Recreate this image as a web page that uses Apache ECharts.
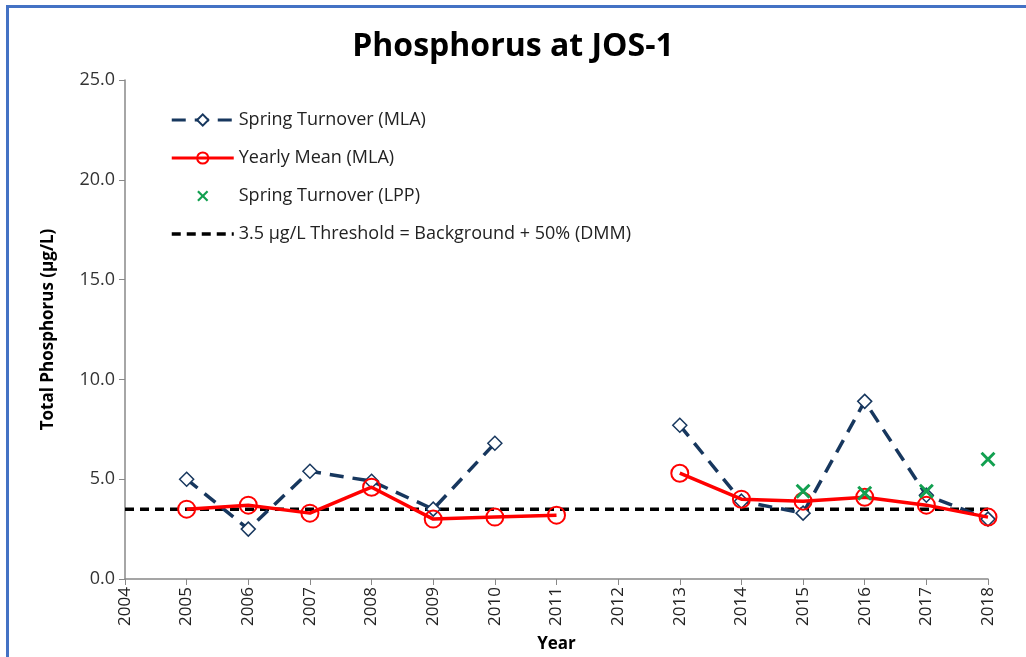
<!DOCTYPE html>
<html>
<head>
  <meta charset="UTF-8">
  <title>Phosphorus at JOS-1</title>
  <script src="https://cdn.jsdelivr.net/npm/echarts@6/dist/echarts.min.js"></script>
  <style>
    html, body { margin: 0; padding: 0; background: #fff; }
    #frame { position: absolute; left: 6px; top: 5px; width: 1030px; height: 660px;
             border-left: 3px solid #4472C4; border-top: 3px solid #4472C4; }
  </style>
</head>
<body>
  <div id="frame"></div>
  <div id="chart" style="position:absolute; left:0; top:0; width:1026px; height:657px;"></div>
  <script>
    var years = ['2004', '2005', '2006', '2007', '2008', '2009', '2010', '2011',
                 '2012', '2013', '2014', '2015', '2016', '2017', '2018'];
    var springMLA = [null, 5.0, 2.5, 5.4, 4.9, 3.5, 6.8, null, null, 7.7, 3.9, 3.3, 8.9, 4.2, 3.0];
    var meanMLA   = [null, 3.5, 3.7, 3.3, 4.6, 3.0, 3.1, 3.2, null, 5.3, 4.0, 3.9, 4.1, 3.7, 3.1];
    var springLPP = [null, null, null, null, null, null, null, null, null, null, null, 4.4, 4.3, 4.4, 6.0];
    var threshold = 3.5;
    var thresholdName = '3.5 \u00b5g/L Threshold = Background + 50% (DMM)';

    var xMark = 'path://M0,1.4L1.4,0L5,3.6L8.6,0L10,1.4L6.4,5L10,8.6L8.6,10L5,6.4L1.4,10L0,8.6L3.6,5Z';
    var font = 'Open Sans';

    var chart = echarts.init(document.getElementById('chart'), null, {renderer: 'canvas'});
    chart.setOption({
      animation: false,
      title: {
        text: 'Phosphorus at JOS-1', left: 'center', top: 26,
        textStyle: {fontFamily: font, fontSize: 32, fontWeight: 'bold', color: '#000'}
      },
      legend: {
        orient: 'vertical', left: 165, top: 106, itemGap: 20, itemWidth: 62, itemHeight: 14,
        textStyle: {fontFamily: font, fontSize: 18, color: '#222'},
        data: [
          {name: 'Spring Turnover (MLA)', lineStyle: {width: 3}},
          {name: 'Yearly Mean (MLA)', lineStyle: {width: 3}},
          'Spring Turnover (LPP)',
          {name: thresholdName, itemStyle: {opacity: 0}, lineStyle: {width: 3.5}}
        ]
      },
      grid: {left: 125, right: 38, top: 80, bottom: 78, outerBoundsMode: 'none'},
      xAxis: {
        type: 'category', data: years, boundaryGap: false,
        name: 'Year', nameLocation: 'middle', nameGap: 57,
        nameTextStyle: {fontFamily: font, fontSize: 17, fontWeight: 'bold', color: '#000'},
        axisLine: {lineStyle: {color: '#888', width: 1.5}},
        axisTick: {alignWithLabel: true, length: 6, lineStyle: {color: '#888'}},
        axisLabel: {rotate: 90, fontFamily: font, fontSize: 17, color: '#222', margin: 8},
        splitLine: {show: false}
      },
      yAxis: {
        type: 'value', min: 0, max: 25, interval: 5,
        name: 'Total Phosphorus (\u00b5g/L)', nameLocation: 'middle', nameGap: 68,
        nameTextStyle: {fontFamily: font, fontSize: 17, fontWeight: 'bold', color: '#000'},
        axisLine: {show: true, lineStyle: {color: '#888', width: 1.5}},
        axisTick: {show: true, length: 6, lineStyle: {color: '#888'}},
        axisLabel: {fontFamily: font, fontSize: 18, color: '#333', margin: 10,
                    formatter: function (v) { return v.toFixed(1); }},
        splitLine: {show: false}
      },
      series: [
        {
          name: 'Spring Turnover (MLA)', type: 'line', data: springMLA, z: 4,
          symbol: 'diamond', symbolSize: 14, connectNulls: false,
          lineStyle: {color: '#17375E', width: 3.5, type: [14, 9]},
          itemStyle: {color: '#fff', borderColor: '#17375E', borderWidth: 1.5}
        },
        {
          name: 'Yearly Mean (MLA)', type: 'line', data: meanMLA, z: 5,
          symbol: 'circle', symbolSize: 17, connectNulls: false,
          lineStyle: {color: '#FF0000', width: 3.5},
          itemStyle: {color: 'rgba(255,255,255,0)', borderColor: '#FF0000', borderWidth: 2}
        },
        {
          name: 'Spring Turnover (LPP)', type: 'line', data: springLPP, z: 6,
          symbol: xMark, symbolSize: 15,
          lineStyle: {width: 0, opacity: 0},
          itemStyle: {color: '#12A050'}
        },
        {
          name: thresholdName, type: 'line', z: 3,
          data: years.map(function () { return threshold; }),
          symbol: 'none',
          lineStyle: {color: '#000', width: 3.5, type: [9, 6]},
          itemStyle: {color: '#000'}
        }
      ]
    });
  </script>
</body>
</html>
